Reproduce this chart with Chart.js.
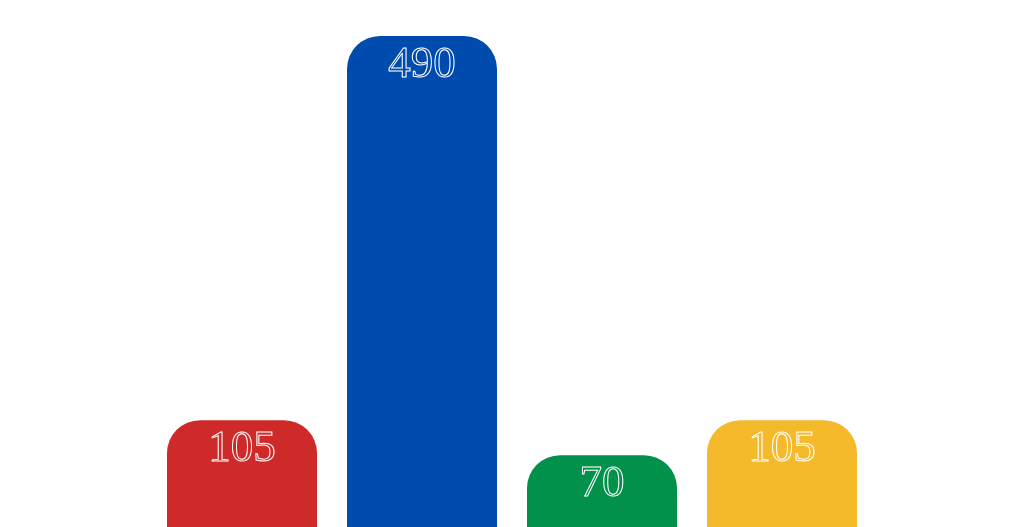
<!DOCTYPE html>
<html>
<head>
<meta charset="utf-8">
<script src="https://cdn.jsdelivr.net/npm/chart.js@4"></script>
<style>
  html, body { margin: 0; padding: 0; background: #ffffff; }
  #wrap { width: 1024px; height: 527px; }
</style>
</head>
<body>
<div id="wrap"><canvas id="barChart"></canvas></div>
<script>
const categories = ['A', 'B', 'C', 'D'];
const values = [105, 490, 70, 105];
const barColors = ['#cf2a2a', '#004cae', '#02914b', '#f4ba2b'];

// outlined value labels drawn just under the top of each bar
const outlineLabels = {
    id: 'outlineLabels',
    afterDatasetsDraw(chart) {
        const ctx = chart.ctx;
        const meta = chart.getDatasetMeta(0);
        ctx.save();
        ctx.font = '45px "Liberation Serif"';
        ctx.textAlign = 'center';
        ctx.textBaseline = 'alphabetic';
        ctx.strokeStyle = '#ffffff';
        ctx.lineWidth = 1;
        meta.data.forEach((bar, i) => {
            ctx.strokeText(String(values[i]), bar.x, bar.y + 41);
        });
        ctx.restore();
    }
};

new Chart(document.getElementById('barChart').getContext('2d'), {
    type: 'bar',
    data: {
        labels: categories,
        datasets: [{
            data: values,
            base: -2,
            backgroundColor: barColors,
            borderWidth: 0,
            borderSkipped: false,
            borderRadius: { topLeft: 33, topRight: 33, bottomLeft: 0, bottomRight: 0 },
            barPercentage: 1,
            categoryPercentage: 150 / 180
        }]
    },
    options: {
        responsive: true,
        maintainAspectRatio: false,
        animation: false,
        layout: { padding: { left: 152, right: 152, top: 0, bottom: 0 } },
        scales: {
            x: { display: false },
            y: { display: false, min: -2, max: 526 }
        },
        plugins: { legend: { display: false }, tooltip: { enabled: false } }
    },
    plugins: [outlineLabels]
});
</script>
</body>
</html>
